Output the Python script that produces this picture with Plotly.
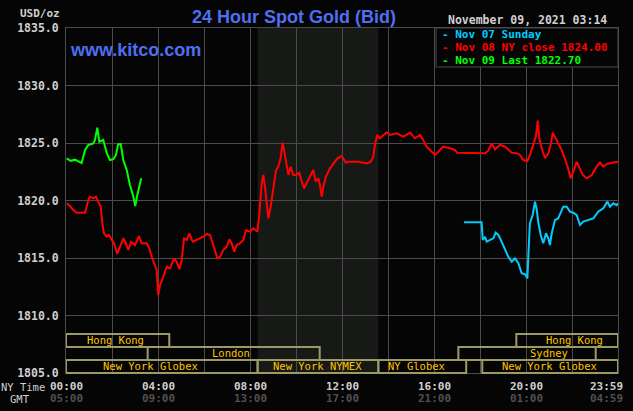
import plotly.graph_objects as go

# ---------------- data (hours after NY midnight, price USD/oz) ----------------
green_hours = [0.03, 0.2, 0.39, 0.55, 0.68, 0.83, 0.97, 1.19, 1.26, 1.36, 1.45, 1.62, 1.77,
               1.91, 2.06, 2.17, 2.27, 2.38, 2.49, 2.64, 2.78, 2.93, 3.01, 3.10, 3.19, 3.27]
green_price = [1823.67, 1823.45, 1823.55, 1823.35, 1823.26, 1824.39, 1824.83, 1824.97, 1825.26,
               1826.33, 1825.11, 1825.26, 1824.13, 1823.52, 1823.60, 1823.96, 1824.89, 1824.91,
               1823.52, 1822.65, 1821.35, 1820.33, 1819.52, 1820.48, 1821.20, 1821.93]

red_hours = [0.03, 0.17, 0.32, 0.47, 0.61, 0.83, 0.97, 1.04, 1.19, 1.30, 1.40, 1.51, 1.58, 1.65,
             1.77, 1.87, 1.99, 2.09, 2.23, 2.35, 2.49, 2.60, 2.71, 2.83, 3.00, 3.17, 3.29, 3.51,
             3.62, 3.73, 3.87, 3.94, 4.01, 4.09, 4.23, 4.38, 4.52, 4.70, 4.81, 4.93, 5.03, 5.13,
             5.25, 5.36, 5.47, 5.53, 5.68, 5.83, 5.97, 6.12, 6.26, 6.38, 6.48, 6.58, 6.70, 6.84,
             6.99, 7.10, 7.20, 7.32, 7.42, 7.57, 7.71, 7.83, 8.00, 8.14, 8.32, 8.40, 8.51, 8.58,
             8.65, 8.73, 8.80, 8.90, 9.01, 9.13, 9.23, 9.33, 9.42, 9.49, 9.57, 9.67, 9.77, 9.88,
             9.99, 10.14, 10.25, 10.35, 10.49, 10.61, 10.75, 10.86, 10.97, 11.04, 11.12, 11.19,
             11.30, 11.48, 11.62, 11.80, 11.99, 12.06, 12.17, 12.27, 12.49, 12.71, 12.93, 13.10,
             13.25, 13.36, 13.43, 13.53, 13.65, 13.80, 13.94, 14.09, 14.38, 14.67, 14.96, 15.17,
             15.39, 15.53, 15.68, 15.90, 16.04, 16.19, 16.40, 16.70, 16.91, 17.01, 17.42, 18.00,
             18.22, 18.36, 18.51, 18.65, 18.87, 19.09, 19.23, 19.38, 19.60, 19.74, 19.88, 20.06,
             20.17, 20.32, 20.43, 20.51, 20.58, 20.68, 20.83, 20.97, 21.09, 21.16, 21.26, 21.40,
             21.55, 21.70, 21.81, 21.94, 22.06, 22.20, 22.32, 22.47, 22.64, 22.86, 23.07, 23.22,
             23.36, 23.51, 23.73, 23.94, 24.00]
red_price = [1819.76, 1819.52, 1819.17, 1818.94, 1818.94, 1818.94, 1820.04, 1820.33, 1820.19,
             1820.33, 1819.90, 1819.46, 1818.02, 1817.15, 1816.85, 1817.00, 1816.57, 1816.28,
             1815.35, 1815.98, 1816.71, 1816.28, 1815.70, 1816.42, 1816.13, 1816.91, 1816.28,
             1816.28, 1815.84, 1815.11, 1814.39, 1813.96, 1811.78, 1812.65, 1813.37, 1814.24,
             1814.10, 1814.97, 1814.68, 1814.02, 1814.83, 1816.71, 1816.57, 1817.15, 1816.57,
             1816.42, 1816.57, 1816.71, 1816.85, 1817.09, 1817.00, 1816.28, 1815.55, 1814.97,
             1815.11, 1815.70, 1815.98, 1816.62, 1816.28, 1815.55, 1816.13, 1816.28, 1816.57,
             1817.43, 1817.29, 1817.58, 1817.29, 1818.74, 1821.50, 1822.22, 1821.20, 1819.46,
             1818.45, 1819.46, 1821.06, 1822.65, 1822.94, 1823.67, 1825.03, 1824.24, 1823.23,
             1822.22, 1822.94, 1822.22, 1822.22, 1822.42, 1821.63, 1821.06, 1821.63, 1822.07,
             1822.65, 1821.63, 1821.93, 1821.35, 1820.33, 1821.20, 1822.07, 1822.80, 1823.23,
             1823.67, 1823.87, 1823.67, 1823.29, 1823.37, 1823.37, 1823.37, 1823.29, 1823.23,
             1823.37, 1823.81, 1824.83, 1825.70, 1825.41, 1825.70, 1825.93, 1825.70, 1825.84,
             1825.55, 1825.90, 1825.41, 1825.70, 1825.26, 1824.68, 1824.24, 1823.96, 1824.24,
             1824.68, 1824.54, 1824.39, 1824.16, 1824.16, 1824.16, 1824.10, 1824.33, 1824.97,
             1824.45, 1824.83, 1824.68, 1824.45, 1824.16, 1824.10, 1823.96, 1823.52, 1823.43,
             1823.96, 1824.83, 1825.55, 1826.94, 1825.41, 1824.54, 1823.67, 1824.10, 1824.97,
             1825.90, 1825.55, 1824.97, 1824.39, 1823.52, 1822.94, 1821.93, 1822.50, 1823.37,
             1822.80, 1822.22, 1821.93, 1822.22, 1822.94, 1823.29, 1822.94, 1823.17, 1823.29,
             1823.37, 1823.37]

cyan_hours = [17.30, 18.07, 18.12, 18.22, 18.29, 18.43, 18.58, 18.68, 18.80, 18.94, 19.09, 19.23,
              19.38, 19.52, 19.67, 19.81, 19.96, 20.06, 20.10, 20.17, 20.29, 20.39, 20.47, 20.54,
              20.64, 20.75, 20.87, 20.97, 21.04, 21.12, 21.26, 21.40, 21.62, 21.77, 21.91, 22.06,
              22.20, 22.35, 22.49, 22.71, 22.93, 23.14, 23.36, 23.54, 23.65, 23.80, 23.94, 24.00]
cyan_price = [1818.10, 1818.10, 1816.57, 1816.85, 1816.42, 1816.57, 1816.71, 1817.20, 1817.00,
              1816.42, 1815.70, 1815.11, 1814.68, 1814.97, 1814.54, 1813.67, 1813.58, 1813.23,
              1815.11, 1818.02, 1818.74, 1819.90, 1819.17, 1818.02, 1817.00, 1816.28, 1817.15,
              1816.71, 1816.13, 1817.15, 1818.30, 1818.45, 1819.46, 1819.46, 1819.03, 1818.94,
              1818.74, 1817.87, 1818.16, 1818.30, 1818.45, 1819.03, 1819.32, 1819.90, 1819.46,
              1819.76, 1819.60, 1819.76]

tick_hours = [0, 4, 8, 12, 16, 20, 24]
ny_labels = ["00:00", "04:00", "08:00", "12:00", "16:00", "20:00", "23:59"]
gmt_labels = ["05:00", "09:00", "13:00", "17:00", "21:00", "01:00", "04:59"]

legend_labels = ["-\u2009Nov 07 Sunday", "-\u2009Nov 08 NY close 1824.00", "-\u2009Nov 09 Last 1822.70"]

# sessions: (name, start hour, end hour, row, text center hour)
sessions = [
    ("Hong Kong", 0.0, 4.49, 2, 2.15),
    ("Hong Kong", 19.58, 24.0, 2, 22.09),
    ("London", 3.55, 11.03, 1, 7.19),
    ("Sydney", 17.06, 23.03, 1, 21.01),
    ("New York Globex", 0.0, 8.33, 0, 3.67),
    ("New York NYMEX", 8.33, 13.58, 0, 10.93),
    ("NY Globex", 13.58, 17.4, 0, 15.23),
    ("New York Globex", 18.1, 24.0, 0, 21.03),
]
nymex_start, nymex_end = 8.33, 13.58

# ---------------- styling ----------------
BG = "#050505"
GRID = "#4b4b4b"
MONO = "DejaVu Sans Mono"
RED = "#ff0000"
GREEN = "#00ff00"
CYAN = "#00ccff"
BOX = "#9e9a68"
BOXTXT = "#ffc400"

fig = go.Figure()
fig.add_trace(go.Scatter(x=red_hours, y=red_price, mode="lines",
                         line=dict(color=RED, width=2), hoverinfo="skip"))
fig.add_trace(go.Scatter(x=cyan_hours, y=cyan_price, mode="lines",
                         line=dict(color=CYAN, width=2), hoverinfo="skip"))
fig.add_trace(go.Scatter(x=green_hours, y=green_price, mode="lines",
                         line=dict(color=GREEN, width=2), hoverinfo="skip"))

shapes = []
# NYMEX shaded region
shapes.append(dict(type="rect", xref="x", yref="paper", x0=nymex_start, x1=nymex_end,
                   y0=0, y1=1, fillcolor="#171917", line=dict(width=0), layer="below"))
# session boxes
row_h = 0.0377
for name, s, e, row, tc in sessions:
    shapes.append(dict(type="rect", xref="x", yref="paper", x0=s, x1=e,
                       y0=row * row_h, y1=(row + 1) * row_h,
                       line=dict(color=BOX, width=2), fillcolor="rgba(0,0,0,0)", layer="above"))
# legend box
shapes.append(dict(type="rect", xref="x", yref="paper", x0=16.09, x1=24.0, y0=0.887, y1=1.0,
                   fillcolor=BG, line=dict(color=GRID, width=1), layer="above"))

annotations = []
for name, s, e, row, tc in sessions:
    annotations.append(dict(x=tc, y=(row + 0.5) * row_h, xref="x", yref="paper", text=name,
                            showarrow=False, font=dict(family=MONO, size=10.5, color=BOXTXT),
                            xanchor="center", yanchor="middle", height=12))
for h, ny, gmt in zip(tick_hours, ny_labels, gmt_labels):
    xa = "center"
    xs = 0
    if h == 24:
        xa, xs = "right", 7
    annotations.append(dict(x=h, y=-0.0377, xref="x", yref="paper", text=ny, showarrow=False,
                            font=dict(family=MONO, size=11, color="#cfcfcf", weight="bold"),
                            xanchor=xa, xshift=xs, yanchor="middle", height=11))
    annotations.append(dict(x=h, y=-0.0725, xref="x", yref="paper", text=gmt, showarrow=False,
                            font=dict(family=MONO, size=11, color="#505050", weight="bold"),
                            xanchor=xa, xshift=xs, yanchor="middle", height=11))
annotations.append(dict(x=-0.077, y=-0.0377, xref="paper", yref="paper", text="NY Time",
                        showarrow=False, font=dict(family=MONO, size=10.5, color="#cfcfcf"),
                        xanchor="center", yanchor="middle", height=11))
annotations.append(dict(x=-0.0833, y=-0.0725, xref="paper", yref="paper", text="GMT",
                        showarrow=False, font=dict(family=MONO, size=10.5, color="#cfcfcf"),
                        xanchor="center", yanchor="middle", height=11))
annotations.append(dict(x=-0.0072, y=1.0406, xref="paper", yref="paper", text="USD/oz",
                        showarrow=False, font=dict(family=MONO, size=11, color="#cfcfcf", weight="bold"),
                        xanchor="right", yanchor="middle"))
annotations.append(dict(x=0.0036, y=0.936, xref="paper", yref="paper", text="www.kitco.com",
                        showarrow=False, font=dict(family="Liberation Sans", size=18, color="#4f6ff2", weight="bold"),
                        xanchor="left", yanchor="middle"))
annotations.append(dict(x=0.836, y=1.023, xref="paper", yref="paper", text="November 09, 2021 03:14",
                        showarrow=False, font=dict(family=MONO, size=11.5, color="#d0d0d0", weight="bold"),
                        xanchor="center", yanchor="middle"))
for lbl, col, yy in zip(legend_labels, [CYAN, RED, GREEN], [0.9826, 0.9449, 0.9072]):
    annotations.append(dict(x=0.6775, y=yy, xref="paper", yref="paper", text=lbl,
                            showarrow=False, font=dict(family=MONO, size=11, color=col, weight="bold"),
                            xanchor="left", yanchor="middle", height=11))

fig.update_layout(
    width=633, height=411,
    margin=dict(l=66, r=15, t=28, b=38),
    paper_bgcolor=BG, plot_bgcolor=BG,
    showlegend=False,
    title=dict(text="24 Hour Spot Gold (Bid)", x=294 / 633, xanchor="center",
               y=1 - 17 / 411, yanchor="middle",
               font=dict(family="Liberation Sans", size=18, color="#4f6ff2", weight="bold")),
    shapes=shapes,
    annotations=annotations,
    xaxis=dict(range=[0, 24], dtick=2, tick0=0, showgrid=True, gridcolor=GRID, gridwidth=1,
               showticklabels=False, zeroline=False, showline=True, linecolor=GRID,
               linewidth=1, mirror=True, fixedrange=True),
    yaxis=dict(range=[1805, 1835], dtick=5, tick0=1805, tickformat=".1f", showgrid=True,
               gridcolor=GRID, gridwidth=1, zeroline=False, showline=True, linecolor=GRID,
               linewidth=1, mirror=True, ticks="", ticklabelstandoff=4,
               tickfont=dict(family=MONO, size=11.5, color="#cfcfcf", weight="bold"),
               fixedrange=True),
)

fig.write_html("out.html")
